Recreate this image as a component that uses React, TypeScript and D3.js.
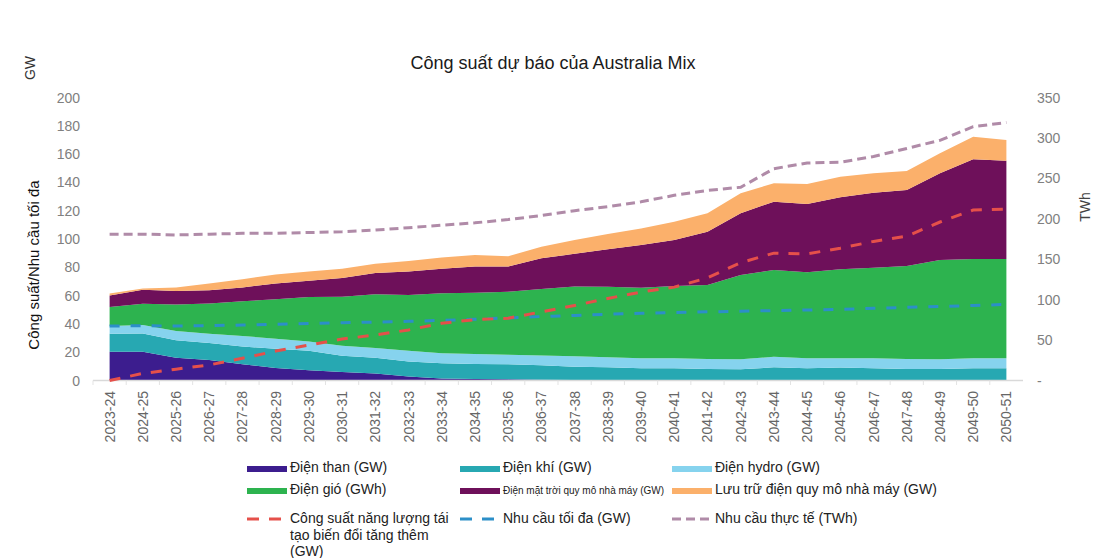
import React from "react";
import * as d3 from "d3";

const categories = [
  "2023-24", "2024-25", "2025-26", "2026-27", "2027-28", "2028-29", "2029-30",
  "2030-31", "2031-32", "2032-33", "2033-34", "2034-35", "2035-36", "2036-37",
  "2037-38", "2038-39", "2039-40", "2040-41", "2041-42", "2042-43", "2043-44",
  "2044-45", "2045-46", "2046-47", "2047-48", "2048-49", "2049-50", "2050-51",
];

// GW (stacked)
const coal = [20.4, 20.4, 16, 14.5, 11.5, 8.8, 7.2, 6, 5, 2.8, 1.5, 1, 0.8, 0.5, 0.4, 0.2, 0, 0, 0, 0, 0, 0, 0, 0, 0, 0, 0, 0];
const gas = [12.6, 12.8, 12.5, 12, 12.5, 13.7, 13.8, 11.5, 11, 10.7, 10.7, 10.7, 10.7, 10.3, 9.4, 9.1, 8.6, 8.6, 8.1, 7.9, 9.3, 8.6, 9.1, 8.6, 8.1, 8.1, 8.6, 8.6];
const hydro = [5.5, 6.1, 6.5, 6.5, 7.5, 7, 6.5, 7, 7, 7.5, 7.1, 7, 6.7, 6.8, 7.4, 7.1, 7.1, 7.1, 7.1, 7.1, 7.5, 7.1, 6.6, 7.1, 7.1, 6.9, 7.1, 7.1];
const wind = [13.5, 14.9, 18.7, 21.5, 24.5, 27.9, 31.5, 34.7, 38, 39.5, 42.3, 43.3, 44.6, 47.1, 49.3, 49.9, 49.9, 51.1, 52.3, 59.6, 61.3, 60.8, 62.9, 64, 65.7, 70.2, 70.2, 70.2];
const solar = [8, 10, 9.6, 9.3, 9.8, 11.1, 11.5, 13.3, 15, 16.5, 17.4, 18.5, 17.7, 21.7, 23, 26.4, 30.2, 32.5, 37.7, 43.6, 48.3, 48.2, 50.9, 53, 53.7, 61.2, 70.4, 69.4];
const storage = [1.5, 0.8, 2.5, 4.7, 5.7, 6.5, 6.5, 6.5, 6.5, 7.5, 8, 8.2, 7.3, 8.2, 9.8, 10.8, 11.7, 12.9, 13, 14.1, 13, 14.2, 14.5, 13.7, 13.4, 14.2, 16, 14.7];

// Lines
const renewableAdded = [0, 5, 8, 11, 15.7, 20.8, 25, 29.3, 32.2, 35.7, 40.5, 43, 44, 48.5, 53, 58, 62.5, 66, 72.5, 83.3, 90, 89.5, 93.5, 98.3, 102, 112, 120.5, 121];
const peakDemand = [38.5, 38.7, 38.5, 38.8, 39.2, 39.8, 40.3, 40.8, 41.3, 41.8, 42.5, 43.3, 44.2, 45.2, 46, 46.8, 47.5, 48, 48.5, 49, 49.4, 49.8, 50.3, 51, 51.7, 52.3, 53, 53.8];
const actualDemand = [181, 181, 180, 181, 182, 182, 183, 184, 186, 189, 192, 195, 199, 204, 210, 215, 221, 229, 235, 239, 262, 269, 270, 277, 287, 297, 314, 319];

const leftTicks = [0, 20, 40, 60, 80, 100, 120, 140, 160, 180, 200];
const rightTicks = [0, 50, 100, 150, 200, 250, 300, 350];

const seriesNames = [
  "Điện than (GW)",
  "Điện khí (GW)",
  "Điện hydro (GW)",
  "Điện gió (GWh)",
  "Điện mặt trời quy mô nhà máy (GW)",
  "Lưu trữ điện quy mô nhà máy (GW)",
];
const lineNames = [
  ["Công suất năng lượng tái", "tạo biến đổi tăng thêm", "(GW)"],
  ["Nhu cầu tối đa (GW)"],
  ["Nhu cầu thực tế (TWh)"],
];

const areaColors = ["#3c1d8e", "#27a8b2", "#86d3ee", "#2db34f", "#6e105a", "#fbb06b"];
const lineColors = ["#e5504a", "#2c8fc8", "#b08ba8"];
const lineDash = ["11 10", "10 11", "9 5"];

const FONT = "'Liberation Sans', Arial, sans-serif";

export default function App() {
  const x = d3.scaleBand<string>().domain(categories).range([93, 1023]);
  const cx = (c: string) => (x(c) as number) + x.bandwidth() / 2;
  const y = d3.scaleLinear().domain([0, 200]).range([380.5, 97.5]);
  const yR = d3.scaleLinear().domain([0, 350]).range([380.5, 97.5]);

  const keys = ["coal", "gas", "hydro", "wind", "solar", "storage"];
  const rows = categories.map((c, i) => ({
    c,
    coal: coal[i],
    gas: gas[i],
    hydro: hydro[i],
    wind: wind[i],
    solar: solar[i],
    storage: storage[i],
  }));
  const stacked = d3.stack<any>().keys(keys)(rows);
  const area = d3
    .area<any>()
    .x((d) => cx(d.data.c))
    .y0((d) => y(d[0]))
    .y1((d) => y(d[1]));

  const lineL = d3
    .line<number>()
    .x((_, i) => cx(categories[i]))
    .y((d) => y(d));
  const lineR = d3
    .line<number>()
    .x((_, i) => cx(categories[i]))
    .y((d) => yR(d));

  const legendCols = [247, 460, 672];
  const legendRows = [472, 494, 523];

  return (
    <svg
      width={1108}
      height={558}
      style={{ position: "absolute", left: 0, top: 0, display: "block", background: "#fff" }}
      fontFamily={FONT}
    >
      <rect x={0} y={0} width={1108} height={558} fill="#fff" />
      <text x={553} y={69} textAnchor="middle" fontSize={18} fill="#1a1a1a">
        Công suất dự báo của Australia Mix
      </text>

      {/* axis titles */}
      <text transform="translate(35,68) rotate(-90)" textAnchor="middle" fontSize={14} fill="#333">
        GW
      </text>
      <text transform="translate(39,265) rotate(-90)" textAnchor="middle" fontSize={15} fill="#111">
        Công suất/Nhu cầu tối đa
      </text>
      <text transform="translate(1090,207) rotate(-90)" textAnchor="middle" fontSize={14} fill="#444">
        TWh
      </text>

      {/* left ticks */}
      {leftTicks.map((t) => (
        <text key={"l" + t} x={80} y={y(t) + 5} textAnchor="end" fontSize={14} fill="#808080">
          {t}
        </text>
      ))}
      {/* right ticks */}
      {rightTicks.map((t) => (
        <text key={"r" + t} x={1037} y={yR(t) + 5} textAnchor="start" fontSize={14} fill="#808080">
          {t === 0 ? "-" : t}
        </text>
      ))}

      {/* areas */}
      {stacked.map((s, i) => (
        <path key={s.key} d={area(s) as string} fill={areaColors[i]} />
      ))}

      {/* baseline */}
      <line x1={93} x2={1023} y1={380.5} y2={380.5} stroke="#d9d9d9" strokeWidth={1.5} />
      {categories.map((c) => (
        <line key={"t" + c} x1={x(c) as number} x2={x(c) as number} y1={380.5} y2={385} stroke="#e3e3e3" strokeWidth={1} />
      ))}

      {/* lines */}
      <path d={lineR(actualDemand) as string} fill="none" stroke={lineColors[2]} strokeWidth={3} strokeDasharray={lineDash[2]} />
      <path d={lineL(peakDemand) as string} fill="none" stroke={lineColors[1]} strokeWidth={3} strokeDasharray={lineDash[1]} />
      <path d={lineL(renewableAdded) as string} fill="none" stroke={lineColors[0]} strokeWidth={3} strokeDasharray={lineDash[0]} />

      {/* x labels */}
      {categories.map((c) => (
        <text
          key={"x" + c}
          transform={`translate(${cx(c) + 5},391) rotate(-90)`}
          textAnchor="end"
          fontSize={14}
          fill="#666"
        >
          {c}
        </text>
      ))}

      {/* legend */}
      {seriesNames.map((n, i) => {
        const col = i % 3;
        const row = Math.floor(i / 3);
        const lx = legendCols[col];
        const ly = legendRows[row];
        return (
          <g key={"lg" + i}>
            <rect x={lx} y={ly - 6} width={40} height={6} fill={areaColors[i]} />
            <text x={lx + 43} y={ly} fontSize={i === 4 ? 10 : 14} fill="#222">
              {n}
            </text>
          </g>
        );
      })}
      {lineNames.map((lines, i) => {
        const lx = legendCols[i];
        const ly = legendRows[2];
        return (
          <g key={"ll" + i}>
            <line
              x1={lx}
              x2={lx + 40}
              y1={ly - 4}
              y2={ly - 4}
              stroke={lineColors[i]}
              strokeWidth={3}
              strokeDasharray={i === 2 ? "9 5" : "12 10"}
            />
            {lines.map((t, j) => (
              <text key={j} x={lx + 43} y={ly + j * 16.5} fontSize={14} fill="#222">
                {t}
              </text>
            ))}
          </g>
        );
      })}
    </svg>
  );
}
